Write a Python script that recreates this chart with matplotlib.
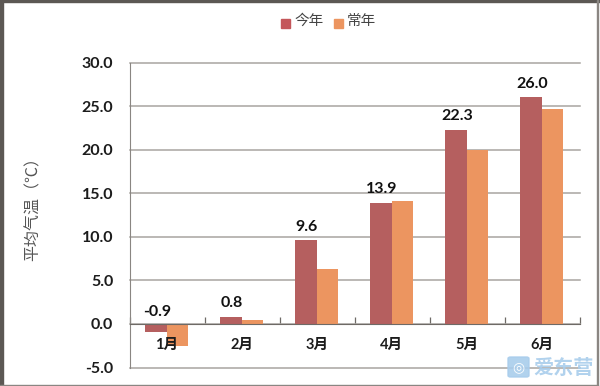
import matplotlib
matplotlib.use('Agg')
import matplotlib.pyplot as plt
import numpy as np
from matplotlib.patches import Rectangle, FancyBboxPatch

plt.rcParams['font.family'] = ['Noto Sans CJK SC', 'DejaVu Sans']

months = ['1月', '2月', '3月', '4月', '5月', '6月']
this_year = [-0.9, 0.8, 9.6, 13.9, 22.3, 26.0]
normal = [-2.5, 0.5, 6.3, 14.1, 20.0, 24.7]
yticks = [-5, 0, 5, 10, 15, 20, 25, 30]

red = '#b55f5f'
orange = '#ec9560'
grid = '#a8a4a0'
W, H = 600, 386

fig = plt.figure(figsize=(W / 100, H / 100), dpi=100, facecolor='white')
ax = fig.add_axes([130 / W, 1 - 367.5 / H, 450 / W, 305 / H])

x = np.arange(len(months))
width = 0.286
shift = -0.012
ax.bar(x + shift - width / 2, this_year, width, color=red, label='今年', zorder=3, linewidth=0)
ax.bar(x + shift + width / 2, normal, width, color=orange, label='常年', zorder=3, linewidth=0)

ax.set_xlim(-0.5, 5.5)
ax.set_ylim(-5, 30)
ax.set_yticks(yticks)
ax.set_yticklabels([f'{v:.1f}' for v in yticks], fontsize=11.5, family='Lato',
                   fontweight='bold', color='#1c1c1c')
ax.tick_params(axis='y', length=0, pad=12)
ax.grid(axis='y', color=grid, linewidth=1.1, zorder=1)
ax.set_axisbelow(True)
for gl in ax.get_ygridlines():
    gl.set_clip_on(False)

# x axis sits at zero, month labels under it
ax.set_xticks(np.arange(-0.5, 6, 1))
ax.set_xticklabels([])
ax.spines['bottom'].set_position(('data', 0))
ax.spines['bottom'].set_color('#6e6a66')
ax.spines['bottom'].set_zorder(4)
ax.tick_params(axis='x', direction='in', length=5, width=0.9, color='#6e6a66')
ax.spines['left'].set_color('#8a8682')
for s in ['top', 'right']:
    ax.spines[s].set_visible(False)

for i, m in enumerate(months):
    ax.text(i - 0.01, -2.4, m, ha='center', va='center', fontsize=10.5, color='#1c1c1c', zorder=5,
            family=['Lato', 'Noto Sans CJK SC'], fontweight='bold')

for i, v in enumerate(this_year):
    ypos = max(v, 0) + 0.75 if i > 0 else max(v, 0) + 0.6
    ax.text(i - 0.14, ypos, f'{v:.1f}', ha='center', va='bottom', fontsize=11.5, color='#111111',
            family='Lato', fontweight='bold', zorder=5)

ax.set_ylabel('平均气温（℃）', fontsize=11.5, color='#555555', rotation=90)
ax.yaxis.set_label_coords((42 - 130) / 450, (367.5 - 205) / 305)

# legend
fig.add_artist(Rectangle((281 / W, 1 - 28 / H), 9 / W, 9 / H, color='#c4565a', transform=fig.transFigure))
fig.text(294 / W, 1 - 21 / H, '今年', fontsize=10.5, color='#444444', va='center')
fig.add_artist(Rectangle((334 / W, 1 - 28 / H), 9 / W, 9 / H, color=orange, transform=fig.transFigure))
fig.text(347 / W, 1 - 21 / H, '常年', fontsize=10.5, color='#444444', va='center')

# watermark
fig.add_artist(FancyBboxPatch((508 / W, 1 - 377 / H), 21 / W, 20 / H, boxstyle='round,pad=0,rounding_size=0.004',
                              color='#a9cdec', transform=fig.transFigure, zorder=6, alpha=0.9))
fig.text(518.5 / W, 1 - 367 / H, '◎', fontsize=10, color='white', ha='center', va='center', zorder=7,
         family='DejaVu Sans')
fig.text(533 / W, 1 - 367 / H, '爱东营', fontsize=14.5, color='#a9cdec', va='center', zorder=7,
         fontweight='bold', alpha=0.9)

# screenshot frame
fig.add_artist(Rectangle((0, 1 - 2 / H), 1, 2 / H, color='#5c5854', transform=fig.transFigure))
fig.add_artist(Rectangle((0, 0), 2.5 / W, 1, color='#5c5854', transform=fig.transFigure))
fig.add_artist(Rectangle((597 / W, 0), 1 / W, 1, color='#8a8682', transform=fig.transFigure))
fig.add_artist(Rectangle((0, 0.5 / H), 598 / W, 1 / H, color='#8a8682', transform=fig.transFigure))

fig.savefig('out.png', dpi=100)
